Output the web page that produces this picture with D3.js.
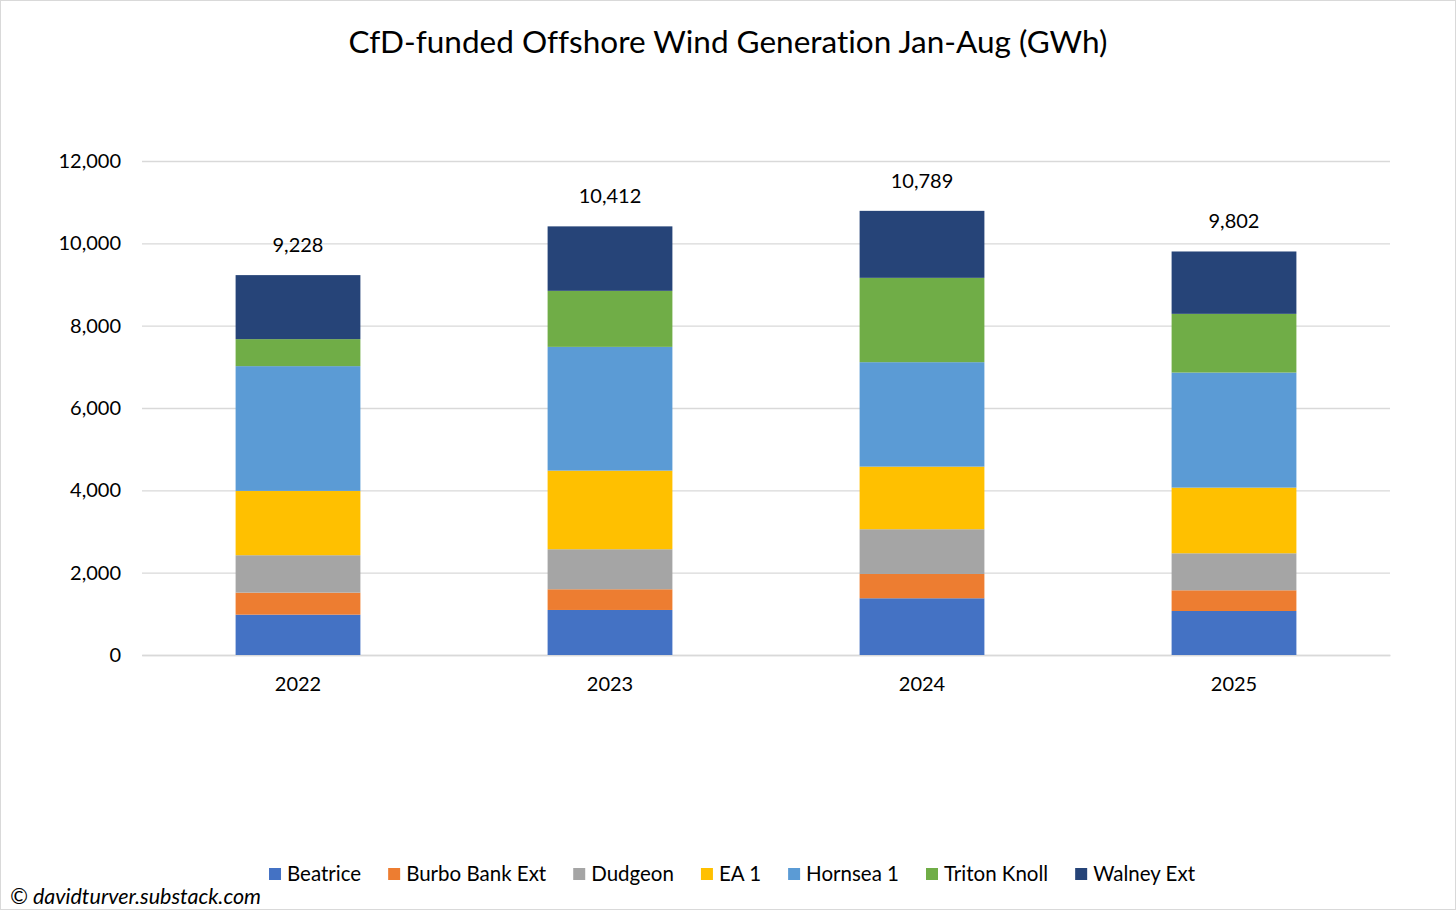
<!DOCTYPE html>
<html>
<head>
<meta charset="utf-8">
<script src="https://cdn.jsdelivr.net/npm/d3@7"></script>
<style>
  body { margin: 0; background: #fff; }
  svg { font-family: Lato, "Open Sans", sans-serif; font-variant-ligatures: none; }
</style>
</head>
<body>
<div id="canvas"></div>
<script>
// data (GWh, Jan-Aug)
var years = ["2022", "2023", "2024", "2025"];
var farms = ["Beatrice", "Burbo Bank Ext", "Dudgeon", "EA 1", "Hornsea 1", "Triton Knoll", "Walney Ext"];
var beatrice   = [980, 1094, 1378, 1069];
var burbo      = [535, 503, 590, 503];
var dudgeon    = [909, 972, 1087, 899];
var ea1        = [1562, 1910, 1521, 1595];
var hornsea    = [3031, 3006, 2537, 2795];
var triton     = [656, 1361, 2049, 1426];
var walney     = [1555, 1566, 1627, 1515];
var totals     = [9228, 10412, 10789, 9802];
var yTicks     = [0, 2000, 4000, 6000, 8000, 10000, 12000];
var colors     = ["#4472C4", "#ED7D31", "#A5A5A5", "#FFC000", "#5B9BD5", "#70AD47", "#264478"];

var series = [beatrice, burbo, dudgeon, ea1, hornsea, triton, walney];

var W = 1456, H = 911;
var margin = {top: 161, right: 66, bottom: 256, left: 142};
var width = W - margin.left - margin.right,
    height = H - margin.top - margin.bottom;

// table for d3.stack
var rows = years.map(function(y, i) {
  var r = {year: y};
  farms.forEach(function(f, j) { r[f] = series[j][i]; });
  return r;
});
var stacked = d3.stack().keys(farms)(rows);

var svg = d3.select("#canvas").append("svg")
  .attr("width", W).attr("height", H);

svg.append("rect")
  .attr("x", 0.5).attr("y", 0.5)
  .attr("width", W - 1).attr("height", H - 2)
  .attr("fill", "#fff").attr("stroke", "#d9d9d9");

svg.append("text")
  .attr("x", 728).attr("y", 53)
  .attr("text-anchor", "middle")
  .attr("font-size", 31.5)
  .attr("fill", "#000")
  .text("CfD-funded Offshore Wind Generation Jan-Aug (GWh)");

var g = svg.append("g")
  .attr("transform", "translate(" + margin.left + "," + margin.top + ")");

var x = d3.scaleBand().domain(years).range([0, width])
  .paddingInner(0.6).paddingOuter(0.3);
var y = d3.scaleLinear().domain([0, 12000]).range([height, 0]);

// gridlines
g.append("g")
  .call(d3.axisLeft(y).tickValues(yTicks).tickSize(-width).tickFormat(""))
  .call(function(a) {
    a.select(".domain").remove();
    a.selectAll("line").attr("stroke", "#d9d9d9").attr("stroke-width", 1.3);
  });

// y labels
g.append("g")
  .call(d3.axisLeft(y).tickValues(yTicks).tickSize(0).tickPadding(21)
    .tickFormat(d3.format(",")))
  .call(function(a) {
    a.select(".domain").remove();
    a.selectAll("text").attr("font-size", 20).attr("fill", "#000")
      .attr("font-family", "Lato, sans-serif");
  });

// x axis
g.append("g")
  .attr("transform", "translate(0," + height + ")")
  .call(d3.axisBottom(x).tickSize(0).tickPadding(22))
  .call(function(a) {
    a.select(".domain").attr("stroke", "#d9d9d9").attr("stroke-width", 1.3);
    a.selectAll("text").attr("font-size", 20).attr("fill", "#000")
      .attr("font-family", "Lato, sans-serif");
  });

// bars
g.selectAll(".layer")
  .data(stacked)
  .enter().append("g")
  .attr("class", "layer")
  .attr("fill", function(d, i) { return colors[i]; })
  .selectAll("rect")
  .data(function(d) { return d; })
  .enter().append("rect")
  .attr("x", function(d) { return x(d.data.year); })
  .attr("y", function(d) { return y(d[1]); })
  .attr("width", x.bandwidth())
  .attr("height", function(d) { return y(d[0]) - y(d[1]); });

// totals above bars
g.selectAll(".total")
  .data(years)
  .enter().append("text")
  .attr("x", function(d) { return x(d) + x.bandwidth() / 2; })
  .attr("y", function(d, i) { return y(totals[i]) - 23; })
  .attr("text-anchor", "middle")
  .attr("font-size", 20)
  .text(function(d, i) { return d3.format(",")(totals[i]); });

// legend
var legend = svg.append("g").attr("transform", "translate(0,874)");
var items = legend.selectAll(".item").data(farms).enter().append("g");
items.append("rect")
  .attr("y", -6).attr("width", 12).attr("height", 12)
  .attr("fill", function(d, i) { return colors[i]; });
items.append("text")
  .attr("x", 18).attr("dy", "0.35em")
  .attr("font-size", 20.5)
  .text(function(d) { return d; });

var pos = 0, offsets = [];
items.each(function() {
  offsets.push(pos);
  pos += 18 + this.querySelector("text").getComputedTextLength() + 27;
});
var startX = 732 - (pos - 27) / 2;
items.attr("transform", function(d, i) { return "translate(" + (startX + offsets[i]) + ",0)"; });

svg.append("text")
  .attr("x", 10).attr("y", 904)
  .attr("font-size", 21.5)
  .attr("font-style", "italic")
  .text("© davidturver.substack.com");
</script>
</body>
</html>
